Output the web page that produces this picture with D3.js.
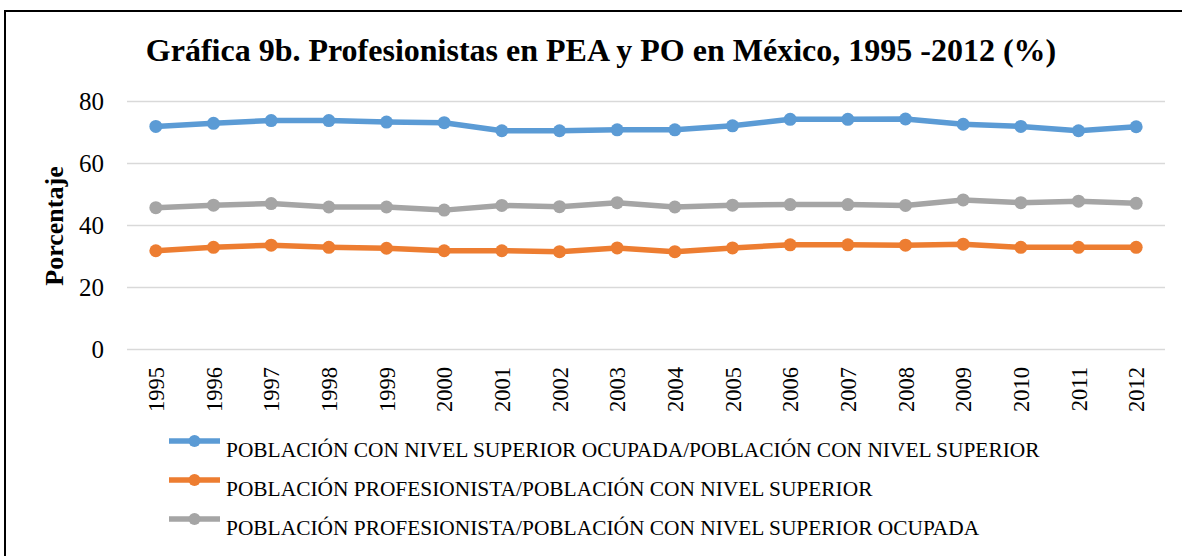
<!DOCTYPE html>
<html>
<head>
<meta charset="utf-8">
<script src="https://cdnjs.cloudflare.com/ajax/libs/d3/7.8.5/d3.min.js"></script>
<style>
  body { margin: 0; background: #fff; }
  svg { display: block; }
  svg text { font-family: "Liberation Serif", "Times New Roman", serif; }
</style>
</head>
<body>
<div id="chart"></div>
<script>
// datos
const years = ["1995","1996","1997","1998","1999","2000","2001","2002","2003",
               "2004","2005","2006","2007","2008","2009","2010","2011","2012"];
const ocupadaNivelSup = [71.8, 72.8, 73.7, 73.7, 73.2, 73.0, 70.4, 70.4, 70.7,
                         70.7, 72.0, 74.1, 74.1, 74.2, 72.5, 71.8, 70.4, 71.7];
const profNivelSup = [31.7, 32.8, 33.5, 32.8, 32.5, 31.7, 31.7, 31.4, 32.6,
                      31.4, 32.6, 33.6, 33.6, 33.5, 33.8, 32.8, 32.8, 32.8];
const profOcupada = [45.6, 46.4, 46.9, 45.8, 45.8, 44.8, 46.3, 45.9, 47.2,
                     45.8, 46.4, 46.6, 46.6, 46.3, 48.1, 47.2, 47.7, 47.0];
const yTicks = [0, 20, 40, 60, 80];
const seriesNames = [
  "POBLACIÓN CON NIVEL SUPERIOR OCUPADA/POBLACIÓN CON NIVEL SUPERIOR",
  "POBLACIÓN PROFESIONISTA/POBLACIÓN CON NIVEL SUPERIOR",
  "POBLACIÓN PROFESIONISTA/POBLACIÓN CON NIVEL SUPERIOR OCUPADA"
];
const colors = ["#5B9BD5", "#ED7D31", "#A5A5A5"];

const series = [ocupadaNivelSup, profNivelSup, profOcupada].map((vals, i) => ({
  name: seriesNames[i], color: colors[i], values: vals
}));

const width = 1182, height = 556;
const svg = d3.select("#chart").append("svg")
  .attr("width", width).attr("height", height);

// marco
svg.append("rect")
  .attr("x", 5).attr("y", 11).attr("width", 1220).attr("height", 600)
  .attr("fill", "none").attr("stroke", "#000").attr("stroke-width", 2);

const plotL = 127, plotR = 1165, plotT = 101, plotB = 349;

const x = d3.scalePoint().domain(years).range([plotL, plotR]).padding(0.5);
const y = d3.scaleLinear().domain([0, 80]).range([plotB, plotT]);

// lineas de cuadricula
svg.append("g")
  .attr("transform", `translate(${plotL},0)`)
  .call(d3.axisLeft(y).tickValues(yTicks).tickSize(-(plotR - plotL)).tickFormat(""))
  .call(g => g.select(".domain").remove())
  .call(g => g.selectAll("line").attr("stroke", "#D9D9D9").attr("stroke-width", 1.5));

// etiquetas eje y
svg.append("g")
  .attr("transform", `translate(${plotL},0)`)
  .call(d3.axisLeft(y).tickValues(yTicks).tickSize(0).tickPadding(23))
  .call(g => g.select(".domain").remove())
  .call(g => g.selectAll("text")
    .attr("font-size", 25).attr("fill", "#000"));

// etiquetas eje x
svg.append("g")
  .attr("transform", `translate(0,${plotB})`)
  .call(d3.axisBottom(x).tickSize(0))
  .call(g => g.select(".domain").remove())
  .call(g => g.selectAll("text")
    .attr("font-size", 22.5).attr("fill", "#000")
    .attr("transform", "rotate(-90)")
    .attr("text-anchor", "end")
    .attr("x", -18).attr("y", 0).attr("dy", "0.34em"));

// lineas
const line = d3.line().x((d, i) => x(years[i])).y(d => y(d));

const sg = svg.selectAll("g.serie").data(series).join("g").attr("class", "serie");
sg.append("path")
  .attr("d", d => line(d.values))
  .attr("fill", "none")
  .attr("stroke", d => d.color)
  .attr("stroke-width", 5.5)
  .attr("stroke-linejoin", "round");
sg.selectAll("circle").data(d => d.values.map((v, i) => ({ v, i, c: d.color })))
  .join("circle")
  .attr("cx", d => x(years[d.i]))
  .attr("cy", d => y(d.v))
  .attr("r", 6.5)
  .attr("fill", d => d.c);

// titulo
svg.append("text")
  .attr("x", 601).attr("y", 61)
  .attr("text-anchor", "middle")
  .attr("font-weight", "bold").attr("font-size", 32)
  .text("Gráfica 9b. Profesionistas en PEA y PO en México, 1995 -2012 (%)");

// titulo eje y
svg.append("text")
  .attr("transform", "translate(63,226) rotate(-90)")
  .attr("text-anchor", "middle")
  .attr("font-weight", "bold").attr("font-size", 26)
  .text("Porcentaje");

// leyenda
const leg = svg.selectAll("g.leg").data(series).join("g")
  .attr("class", "leg")
  .attr("transform", (d, i) => `translate(169,${441 + i * 39})`);
leg.append("line")
  .attr("x1", 0).attr("x2", 51).attr("y1", 0).attr("y2", 0)
  .attr("stroke", d => d.color).attr("stroke-width", 5.5);
leg.append("circle")
  .attr("cx", 25.5).attr("cy", 0).attr("r", 6)
  .attr("fill", d => d.color);
leg.append("text")
  .attr("x", 57).attr("y", 16)
  .attr("font-size", 21.4).attr("fill", "#000")
  .text(d => d.name);
</script>
</body>
</html>
